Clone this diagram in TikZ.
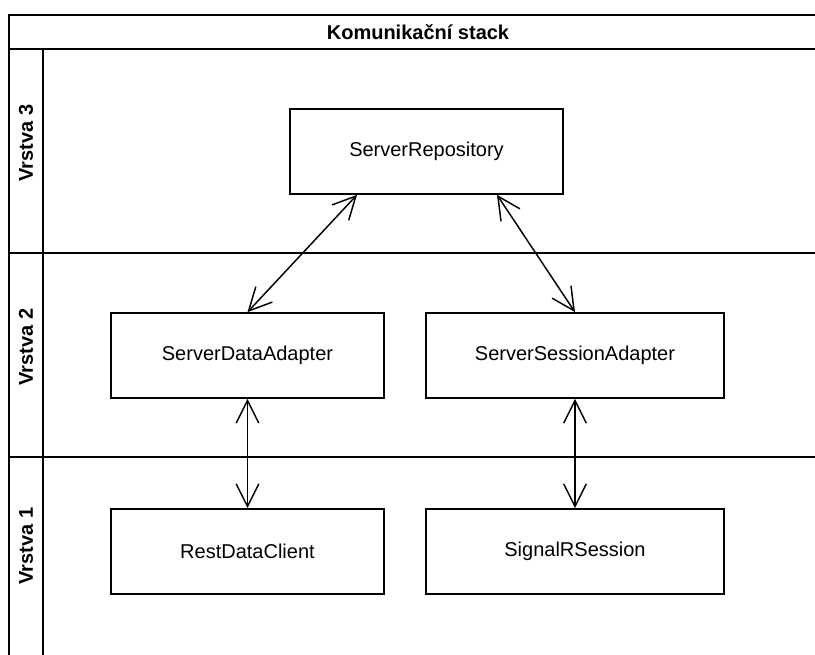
\documentclass[tikz,border=0pt]{standalone}
\usepackage{fontspec}
\setmainfont{Liberation Sans}
\usetikzlibrary{arrows.meta,calc}

\tikzset{
  px/.style={x=0.75pt,y=-0.75pt},
  poolline/.style={draw=black,line width=1.6pt},
  lanelabel/.style={rotate=90,font=\fontsize{15pt}{18pt}\selectfont\bfseries,inner sep=0pt},
  layerbox/.style={draw=black,fill=white,line width=1.3pt,minimum height=85*0.75pt,
    font=\fontsize{15pt}{18pt}\selectfont,inner sep=0pt},
  narrowbox/.style={layerbox,minimum width=273*0.75pt},
  widebox/.style={layerbox,minimum width=298*0.75pt},
  conn/.style={draw=black,line width=1.1pt,
    {Straight Barb[length=17pt,width=17pt,line width=1.1pt]}-{Straight Barb[length=17pt,width=17pt,line width=1.1pt]}}
}

\begin{document}
\begin{tikzpicture}[px]
  \useasboundingbox (0,0) rectangle (815,655);
  \fill[white] (0,0) rectangle (815,655);
  \begin{scope}
    \clip (0,0) rectangle (815,655);
    % pool frame, title band, label column and lane dividers
    \draw[poolline] (9,15) rectangle (840,680);
    \draw[poolline] (9,49) -- (840,49);
    \draw[poolline] (43,49) -- (43,680);
    \draw[poolline] (9,253) -- (840,253);
    \draw[poolline] (9,457) -- (840,457);
  \end{scope}

  \node[font=\fontsize{15pt}{18pt}\selectfont\bfseries] (title) at (418,32) {Komunikační stack};
  \node[lanelabel] (lane3) at (26,143) {Vrstva 3};
  \node[lanelabel] (lane2) at (26,347) {Vrstva 2};
  \node[lanelabel] (lane1) at (26,546) {Vrstva 1};

  % components
  \node[narrowbox] (sr)  at (426.5,151.5) {ServerRepository};
  \node[narrowbox] (sda) at (247.5,355.5) {ServerDataAdapter};
  \node[widebox]   (ssa) at (575,355.5)   {ServerSessionAdapter};
  \node[narrowbox] (rdc) at (247.5,551.5) {RestDataClient};
  \node[widebox]   (srs) at (575,551.5)   {SignalRSession};

  % bidirectional links between layers
  \draw[conn] ($(sr.south)+(-69.5,0)$) -- (sda.north);
  \draw[conn] ($(sr.south)+(70.5,0)$) -- (ssa.north);
  \draw[conn] (sda.south) -- (rdc.north);
  \draw[conn] (ssa.south) -- (srs.north);
\end{tikzpicture}
\end{document}
